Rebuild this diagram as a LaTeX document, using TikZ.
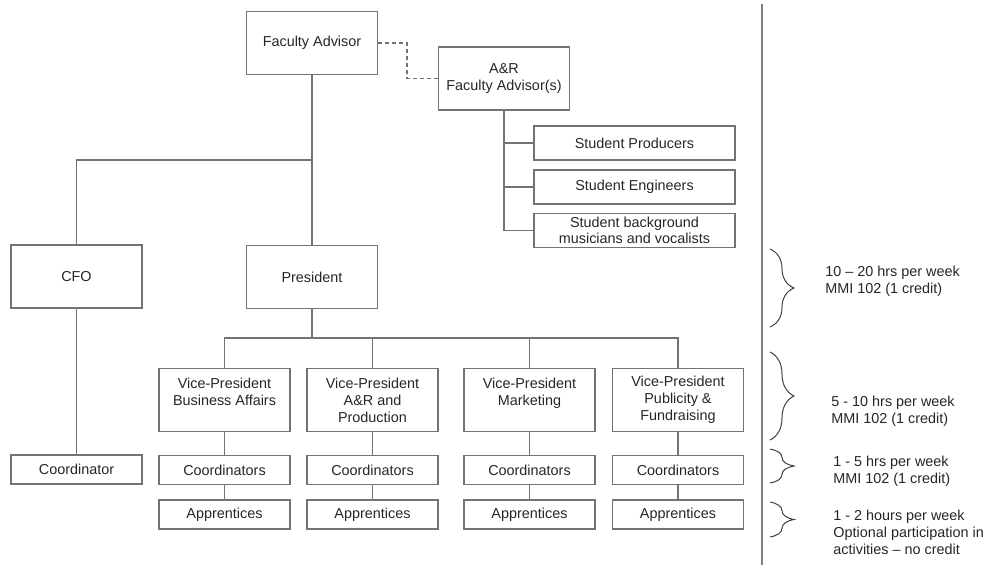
\documentclass[tikz,border=0pt]{standalone}
\usepackage{fontspec}
\setmainfont{Liberation Sans}
\usetikzlibrary{positioning,decorations.pathreplacing}
\begin{document}
\begin{tikzpicture}[
  x=0.5pt, y=-0.5pt,
  box/.style={draw=black!55, line width=0.65pt, align=center, inner sep=1pt, text=black!85, font=\fontsize{7.2}{8.5}\selectfont},
  bigbox/.style={box, minimum width=65.5pt, minimum height=31.5pt},
  smallbox/.style={box, minimum width=65.5pt, minimum height=14.5pt},
  widebox/.style={box, minimum width=100.5pt, minimum height=17pt, font=\fontsize{7.2}{8}\selectfont},
  link/.style={draw=black!55, line width=0.65pt},
  span/.style={draw=black!75, line width=0.5pt, decorate, decoration={brace, amplitude=12pt}},
  note/.style={anchor=west, align=left, inner sep=0pt, text=black!85, font=\fontsize{7.2}{8.5}\selectfont}
]
\useasboundingbox (0,0) rectangle (987,575);
\node[bigbox] (fa) at (312,43) {Faculty Advisor};
\node[bigbox] (ar) at (504,78.5) {A\&R\\Faculty Advisor(s)};
\node[widebox] (prod) at (634.5,143) {Student Producers};
\node[widebox] (eng) at (634.5,187) {Student Engineers};
\node[widebox] (bg) at (634.5,230.5) {Student background\\musicians and vocalists};
\node[bigbox] (cfo) at (76.5,276.5) {CFO};
\node[bigbox] (pres) at (312,277) {President};
\node[smallbox] (cfoco) at (76.5,469.5) {Coordinator};
\node[bigbox] (vpbiz) at (224.5,400) {Vice-President\\Business Affairs\\~};
\node[bigbox] (vpanr) at (372.5,400) {Vice-President\\A\&R and\\Production};
\node[bigbox] (vpmkt) at (529.5,400) {Vice-President\\Marketing\\~};
\node[bigbox] (vppub) at (678,400) {Vice-President\\Publicity \&\\Fundraising};
\node[smallbox, below=11.5pt of vpbiz] (cobiz) {Coordinators};
\node[smallbox, below=11.5pt of vpanr] (coanr) {Coordinators};
\node[smallbox, below=11.5pt of vpmkt] (comkt) {Coordinators};
\node[smallbox, below=11.5pt of vppub] (copub) {Coordinators};
\node[smallbox, below=7pt of cobiz] (apbiz) {Apprentices};
\node[smallbox, below=7pt of coanr] (apanr) {Apprentices};
\node[smallbox, below=7pt of comkt] (apmkt) {Apprentices};
\node[smallbox, below=7pt of copub] (appub) {Apprentices};
\coordinate (dashbend) at (407,43);
\coordinate (cfofork) at (312,160);
\coordinate (vpfork) at (312,338);
\draw[link, dash pattern=on 2pt off 1.5pt] (fa) -- (dashbend) |- (ar);
\draw[link, line width=0.9pt] (ar) |- (prod);
\draw[link, line width=0.9pt] (ar) |- (eng);
\draw[link, line width=0.9pt] (ar) |- (bg);
\draw[link] (fa) -- (pres);
\draw[link] (cfo) |- (cfofork);
\draw[link] (cfo) -- (cfoco);
\draw[link, line width=1pt] (pres) -- (vpfork);
\foreach \vp/\co/\ap in {vpbiz/cobiz/apbiz, vpanr/coanr/apanr, vpmkt/comkt/apmkt, vppub/copub/appub} {
  \draw[link] (\vp) |- (vpfork);
  \draw[link] (\vp) -- (\co);
  \draw[link] (\co) -- (\ap);
}
\draw[draw=black!50, line width=0.8pt] (762,4) -- (762,565);
\draw[span] (770,249) -- (770,327);
\draw[span] (770,352) -- (770,440);
\draw[span] (770,449) -- (770,483);
\draw[span] (770,502) -- (770,537);
\node[note] (hrsvp) at (825,281) {10 -- 20 hrs per week\\MMI 102 (1 credit)};
\node[note] (hrspres) at (831,411) {5 - 10 hrs per week\\MMI 102 (1 credit)};
\node[note] (hrsco) at (833,471) {1 - 5 hrs per week\\MMI 102 (1 credit)};
\node[note] (hrsap) at (833,532) {1 - 2 hours per week\\Optional participation in\\activities -- no credit};
\end{tikzpicture}
\end{document}
